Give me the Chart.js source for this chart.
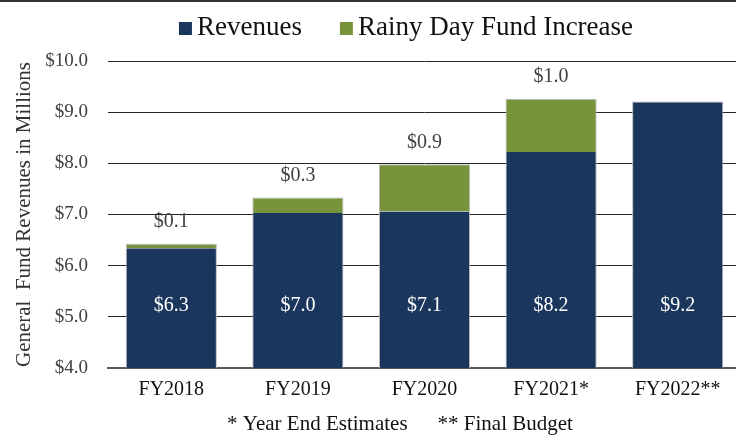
<!DOCTYPE html>
<html>
<head>
<meta charset="utf-8">
<script src="https://cdn.jsdelivr.net/npm/chart.js@4/dist/chart.umd.min.js"></script>
<style>
  html, body { margin: 0; padding: 0; background: #fff; overflow: hidden; }
  #wrap { width: 736px; height: 442px; overflow: hidden; }
</style>
</head>
<body>
<div id="wrap"><canvas id="fundChart" width="741" height="442"></canvas></div>
<script>
// values (millions)
var years = ['FY2018', 'FY2019', 'FY2020', 'FY2021*', 'FY2022**'];
var revenues = [6.34, 7.03, 7.06, 8.22, 9.21];
var rainyDay = [0.09, 0.30, 0.92, 1.04, null];
var yTicks = [4, 5, 6, 7, 8, 9, 10];
var footnote = ['* Year End Estimates', '** Final Budget'];

var NAVY = '#1B365D';
var GREEN = '#77933C';
var SERIF = '"Liberation Serif", "DejaVu Serif", serif';

// legend, footnote, top frame line and bar labels
var extras = {
  id: 'extras',
  afterDraw: function (chart) {
    var ctx = chart.ctx;
    ctx.save();

    // frame line at the very top
    ctx.fillStyle = '#333';
    ctx.fillRect(0, 0, chart.width, 2);

    // legend
    ctx.font = '27px ' + SERIF;
    ctx.textBaseline = 'middle';
    ctx.textAlign = 'left';
    var items = chart.data.datasets.map(function (d) {
      return { text: d.label, color: d.backgroundColor, w: ctx.measureText(d.label).width };
    });
    var box = 13, gapBox = 5, gapItem = 38;
    var total = 0;
    items.forEach(function (it, i) { total += box + gapBox + it.w + (i ? gapItem : 0); });
    var x = 406 - total / 2;
    items.forEach(function (it, i) {
      if (i) x += gapItem;
      ctx.fillStyle = it.color;
      ctx.fillRect(x, 22, box, box);
      x += box + gapBox;
      ctx.fillStyle = '#111';
      ctx.fillText(it.text, x, 28);
      x += it.w;
    });

    // footnote
    ctx.font = '21px ' + SERIF;
    ctx.fillStyle = '#111';
    var a = ctx.measureText(footnote[0]).width;
    var b = ctx.measureText(footnote[1]).width;
    var gap = 30;
    var fx = 400 - (a + gap + b) / 2;
    ctx.fillText(footnote[0], fx, 424);
    ctx.fillText(footnote[1], fx + a + gap, 424);

    // bar labels
    var yScale = chart.scales.y;
    ctx.textAlign = 'center';
    ctx.font = '20px ' + SERIF;
    chart.getDatasetMeta(0).data.forEach(function (bar, i) {
      ctx.fillStyle = '#ffffff';
      ctx.fillText('$' + revenues[i].toFixed(1), bar.x, yScale.getPixelForValue(5.22));
    });
    chart.getDatasetMeta(1).data.forEach(function (bar, i) {
      if (rainyDay[i] == null) return;
      ctx.fillStyle = '#404040';
      ctx.fillText('$' + rainyDay[i].toFixed(1), bar.x, bar.y - 22);
    });
    ctx.restore();
  }
};

var canvasFund = document.getElementById('fundChart');
var fundChart = new Chart(canvasFund, {
  type: 'bar',
  data: {
    labels: years,
    datasets: [
      {
        label: 'Revenues',
        data: revenues,
        backgroundColor: NAVY,
        borderColor: '#b8b8b8',
        borderWidth: function (c) {
          return { left: 1, right: 1, top: rainyDay[c.dataIndex] ? 0 : 1, bottom: 0 };
        },
        borderSkipped: false
      },
      {
        label: 'Rainy Day Fund Increase',
        data: rainyDay,
        backgroundColor: GREEN,
        borderColor: '#b8b8b8',
        borderWidth: { left: 1, right: 1, top: 1, bottom: 0 },
        borderSkipped: false
      }
    ]
  },
  options: {
    responsive: false,
    animation: false,
    layout: { padding: { top: 61, right: 0, bottom: 30, left: 0 } },
    plugins: {
      legend: { display: false },
      tooltip: { enabled: false }
    },
    scales: {
      x: {
        stacked: true,
        categoryPercentage: 1,
        barPercentage: 0.82,
        grid: { display: false, drawTicks: false },
        border: { display: true, color: '#595959', width: 2 },
        ticks: {
          color: '#111',
          padding: 10,
          font: { family: SERIF, size: 20 }
        }
      },
      y: {
        stacked: true,
        min: yTicks[0],
        max: yTicks[yTicks.length - 1],
        afterBuildTicks: function (s) {
          s.ticks = yTicks.map(function (v) { return { value: v }; });
        },
        afterFit: function (s) { s.width = 108; },
        grid: {
          color: '#262626',
          lineWidth: 1,
          drawTicks: false
        },
        border: { display: false },
        ticks: {
          color: '#404040',
          padding: 20,
          font: { family: SERIF, size: 19 },
          callback: function (v) { return '$' + Number(v).toFixed(1); }
        },
        title: {
          display: true,
          text: 'General  Fund Revenues in Millions',
          color: '#333',
          padding: { top: 12, bottom: 0 },
          font: { family: SERIF, size: 21 }
        }
      }
    }
  },
  plugins: [extras]
});
</script>
</body>
</html>
